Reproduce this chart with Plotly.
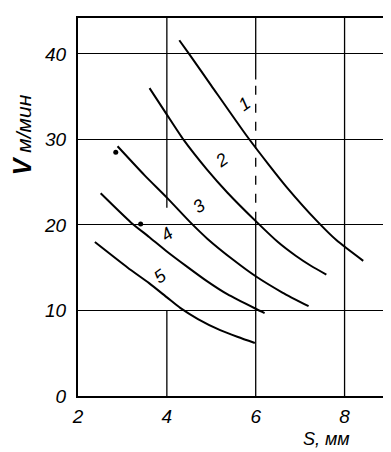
import plotly.graph_objects as go

# --- data ---
c1_x = [4.28, 4.5, 5.0, 5.8, 6.3, 6.7, 7.37, 7.82, 8.42]
c1_y = [41.6, 40.0, 36.3, 30.4, 27.0, 24.4, 20.5, 18.2, 15.8]

c2_x = [3.61, 4.0, 4.37, 4.9, 5.36, 6.03, 6.5, 6.9, 7.25, 7.59]
c2_y = [36.0, 32.9, 30.0, 26.5, 23.8, 20.3, 18.0, 16.4, 15.2, 14.2]

c3_x = [2.89, 3.5, 4.0, 4.53, 4.91, 5.5, 6.0, 6.6, 7.19]
c3_y = [29.2, 25.8, 23.2, 20.3, 18.4, 15.9, 14.0, 12.1, 10.5]

c4_x = [2.51, 3.19, 3.6, 4.0, 4.46, 4.91, 5.36, 6.0, 6.2]
c4_y = [23.7, 20.3, 18.6, 16.9, 15.1, 13.4, 11.9, 10.2, 9.7]

c5_x = [2.38, 3.12, 3.6, 4.01, 4.3, 4.7, 5.2, 5.6, 5.98]
c5_y = [18.0, 15.0, 13.2, 11.5, 10.3, 9.0, 7.7, 6.9, 6.2]

curves = [(c1_x, c1_y), (c2_x, c2_y), (c3_x, c3_y), (c4_x, c4_y), (c5_x, c5_y)]

label_text = ["1", "2", "3", "4", "5"]
label_x = [5.74, 5.24, 4.73, 4.01, 3.86]
label_y = [34.2, 27.6, 22.2, 18.9, 14.0]

dot_x = [2.85, 3.41]
dot_y = [28.5, 20.1]

x_ticks = [2, 4, 6, 8]
y_ticks = [0, 10, 20, 30, 40]

fig = go.Figure()
for cx, cy in curves:
    fig.add_trace(go.Scatter(x=cx, y=cy, mode="lines",
                             line=dict(color="black", width=2, shape="spline", smoothing=0.6),
                             showlegend=False, hoverinfo="skip"))
fig.add_trace(go.Scatter(x=dot_x, y=dot_y, mode="markers",
                         marker=dict(color="black", size=5), showlegend=False, hoverinfo="skip"))

# vertical grid lines (with the breaks seen in the original)
shapes = []
def vline(x, y0, y1, dash="solid", w=1.3):
    shapes.append(dict(type="line", xref="x", yref="y", x0=x, x1=x, y0=y0, y1=y1,
                       line=dict(color="black", width=w, dash=dash)))
vline(4, 22, 44.2)
vline(4, 0, 10)
vline(6, 37, 44.2)
vline(6, 20.5, 37, dash="dash")
vline(6, 0, 20.5)
vline(8, 0, 44.2)

for t, x, y in zip(label_text, label_x, label_y):
    fig.add_annotation(x=x, y=y, text=t, showarrow=False, textangle=-35,
                       font=dict(family="Liberation Sans", size=18, style="italic", color="black"))

fig.add_annotation(xref="paper", yref="paper", x=-0.18, y=0.69, xanchor="center", yanchor="middle",
                   text="<span style='font-size:25px'><b>V</b></span> м/мин", textangle=-90, showarrow=False,
                   font=dict(family="Liberation Sans", size=21, style="italic", color="black"))
fig.add_annotation(xref="paper", yref="paper", x=0.80, y=-0.115, xanchor="center", yanchor="middle",
                   text="S, мм", showarrow=False,
                   font=dict(family="Liberation Sans", size=18, style="italic", color="black"))

fig.update_layout(
    width=391, height=452,
    margin=dict(l=70, r=8, t=10, b=64),
    paper_bgcolor="white", plot_bgcolor="white",
    shapes=shapes,
    xaxis=dict(range=[2, 9], tickvals=x_ticks, ticktext=[str(v) for v in x_ticks],
               showgrid=False, zeroline=False, showline=True, linecolor="black", linewidth=2,
               mirror=True, ticks="", ticklabelstandoff=2,
               tickfont=dict(family="Liberation Sans", size=19, style="italic", color="black")),
    yaxis=dict(range=[0, 44.2], tickvals=y_ticks, ticktext=[str(v) for v in y_ticks],
               showgrid=True, gridcolor="black", gridwidth=1.3, zeroline=False,
               showline=True, linecolor="black", linewidth=2, mirror=True, ticks="",
               ticklabelstandoff=6,
               tickfont=dict(family="Liberation Sans", size=19, style="italic", color="black")),
)

fig.write_html("out.html")
